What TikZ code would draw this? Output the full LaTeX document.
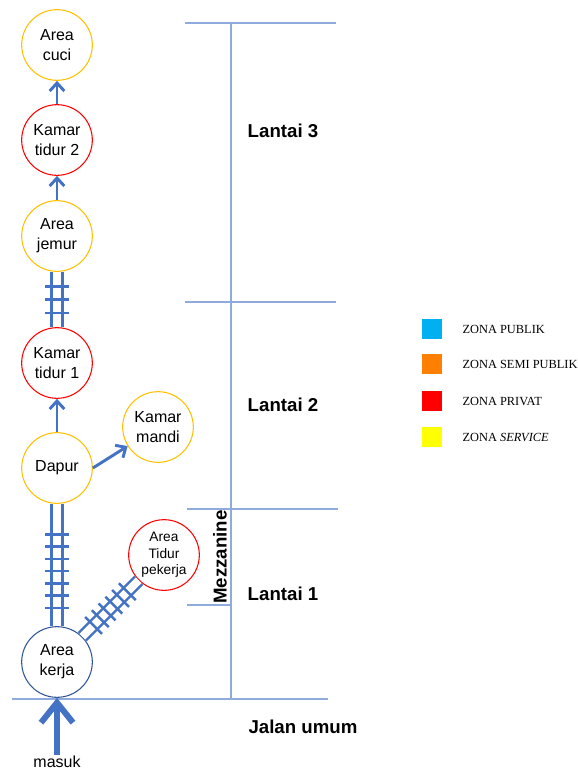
\documentclass[tikz,border=0pt]{standalone}
\usepackage{fontspec}
\setmainfont{Liberation Sans}
\newfontfamily\legendfont{Liberation Serif}
\usetikzlibrary{arrows.meta,decorations.markings,positioning}

\definecolor{panah}{HTML}{4472C4}
\definecolor{garis}{HTML}{8FAADC}
\definecolor{kuning}{HTML}{FFC000}
\definecolor{merah}{HTML}{FF0000}
\definecolor{biru}{HTML}{2F5597}
\definecolor{publik}{HTML}{00B0F0}
\definecolor{semipublik}{HTML}{FF8000}
\definecolor{zservice}{HTML}{FFFF00}

\tikzset{
  ruang/.style={circle, draw=#1, line width=0.8pt, minimum size=53pt,
    inner sep=0pt, align=center, font=\fontsize{12}{15}\selectfont},
  alur/.style={draw=panah, line width=2.2pt,
    -{Straight Barb[length=6pt,width=11pt]}},
  tangga/.style={draw=white, line width=6pt,
    preaction={draw=panah, line width=9.8pt},
    postaction={decorate, decoration={markings,
      mark=between positions #1 with {\draw[panah, line width=1.9pt] (0,-9pt) -- (0,9pt);}}}},
  batas/.style={draw=garis, line width=0.8pt},
  lantai/.style={font=\fontsize{14}{16}\selectfont\bfseries},
  zona/.style={minimum size=15pt, inner sep=0pt, fill=#1},
  zonatext/.style={right=15pt of #1, inner sep=0pt,
    font=\legendfont\fontsize{9.3}{11}\selectfont},
}

\begin{document}
\begin{tikzpicture}[x=0.75pt, y=-0.75pt]
  \useasboundingbox (0,0) rectangle (578,771);

  % garis lantai
  \draw[batas] (185,23) -- (336,23);
  \draw[batas] (185,302) -- (336,302);
  \draw[batas] (187,509) -- (338,509);
  \draw[batas] (187,605) -- (231,605);
  \draw[batas] (12,699) -- (328,699);
  \draw[batas] (231,23) -- (231,699);

  \node[lantai] (lantaitiga) at (283,131) {Lantai 3};
  \node[lantai] (lantaidua) at (283,405) {Lantai 2};
  \node[lantai] (lantaisatu) at (283,594) {Lantai 1};
  \node[lantai] (jalan) at (303,727) {Jalan umum};
  \node[lantai, rotate=90] (mezzanine) at (220,557) {Mezzanine};

  % ruang
  \node[ruang=kuning] (cuci) at (57,45) {Area\\cuci};
  \node[ruang=merah] (tidurdua) at (57,140) {Kamar\\tidur 2};
  \node[ruang=kuning] (jemur) at (57,236) {Area\\jemur};
  \node[ruang=merah] (tidursatu) at (57,363) {Kamar\\tidur 1};
  \node[ruang=kuning] (dapur) at (57,468) {Dapur};
  \node[ruang=kuning] (mandi) at (158,427) {Kamar\\mandi};
  \node[ruang=merah, font=\fontsize{10.3}{12.5}\selectfont] (pekerja) at (164,555)
       {Area\\Tidur\\pekerja};
  \node[ruang=biru] (kerja) at (57,662) {Area\\kerja};
  \node[inner sep=1pt, font=\fontsize{12}{14}\selectfont] (masuk) at (57,762) {masuk};

  % sirkulasi
  \draw[alur] (tidurdua) -- (cuci);
  \draw[alur] (jemur) -- (tidurdua);
  \draw[alur] (dapur) -- (tidursatu);
  \draw[alur] (dapur.east) -- (mandi);
  \draw[tangga={0.26 and 0.74 step 0.24}] (jemur) -- (tidursatu);
  \draw[tangga={0.15 and 0.85 step 0.1}] (kerja) -- (dapur);
  \draw[tangga={0.2 and 0.8 step 0.12}] (kerja) -- (pekerja);
  \draw[panah, line width=4.5pt, -{Straight Barb[length=15pt,width=24pt]}]
       (masuk) -- (kerja);

  % legenda
  \node[zona=publik] (kotakpublik) at (432,329) {};
  \node[zonatext=kotakpublik] (tekspublik) {ZONA PUBLIK};
  \node[zona=semipublik] (kotaksemi) at (432,364) {};
  \node[zonatext=kotaksemi] (tekssemi) {ZONA SEMI PUBLIK};
  \node[zona=merah] (kotakprivat) at (432,401) {};
  \node[zonatext=kotakprivat] (teksprivat) {ZONA PRIVAT};
  \node[zona=zservice] (kotakservice) at (432,437) {};
  \node[zonatext=kotakservice] (teksservice) {ZONA \textit{SERVICE}};
\end{tikzpicture}
\end{document}
